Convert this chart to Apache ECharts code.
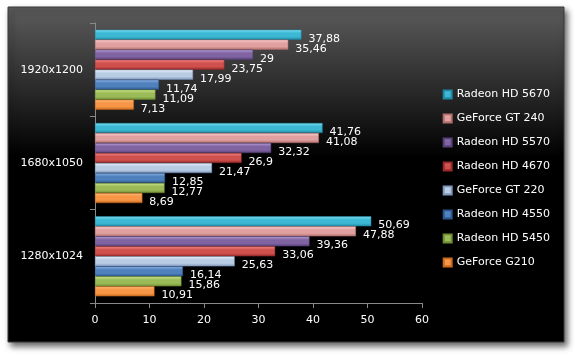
<!DOCTYPE html>
<html><head><meta charset="utf-8">
<script src="https://cdn.jsdelivr.net/npm/echarts@6/dist/echarts.min.js"></script>
<style>html,body{margin:0;padding:0;background:#fff}#c{width:575px;height:357px}</style>
</head><body><div id="c"></div>
<script>
const categories = ['1280x1024', '1680x1050', '1920x1200'];
const seriesNames = ['Radeon HD 5670', 'GeForce GT 240', 'Radeon HD 5570', 'Radeon HD 4670', 'GeForce GT 220', 'Radeon HD 4550', 'Radeon HD 5450', 'GeForce G210'];
const hd5670 = [50.69, 41.76, 37.88];
const gt240 = [47.88, 41.08, 35.46];
const hd5570 = [39.36, 32.32, 29];
const hd4670 = [33.06, 26.9, 23.75];
const gt220 = [25.63, 21.47, 17.99];
const hd4550 = [16.14, 12.85, 11.74];
const hd5450 = [15.86, 12.77, 11.09];
const g210 = [10.91, 8.69, 7.13];
const xTicks = [0, 10, 20, 30, 40, 50, 60];

const values = [hd5670, gt240, hd5570, hd4670, gt220, hd4550, hd5450, g210];
const palette = [
  ['#7ee0f4', '#3cb8d4', '#1f88a4'],
  ['#fbd0cf', '#e0a09f', '#b06e6d'],
  ['#b8a0d8', '#8064a2', '#57407a'],
  ['#f58a88', '#d0504d', '#952a28'],
  ['#eef3fb', '#b8cce4', '#7f97bb'],
  ['#8fb4e6', '#4f81bd', '#2b5790'],
  ['#cde889', '#9bbb59', '#6f8d34'],
  ['#ffba78', '#f79646', '#c86a1e']
];
function grad(c) {
  return new echarts.graphic.LinearGradient(0, 0, 0, 1, [
    {offset: 0, color: c[0]}, {offset: 0.35, color: c[1]}, {offset: 0.7, color: c[1]}, {offset: 1, color: c[2]}
  ]);
}
const font = 'DejaVu Sans';
const chart = echarts.init(document.getElementById('c'), null, {renderer: 'canvas'});
chart.setOption({
  animation: false,
  backgroundColor: '#ffffff',
  graphic: [{
    type: 'rect', z: 0,
    shape: {x: 8, y: 7, width: 556, height: 335},
    style: {
      fill: new echarts.graphic.LinearGradient(0, 0, 0, 1, [
        {offset: 0, color: '#5c5c5c'}, {offset: 0.45, color: '#000000'}, {offset: 1, color: '#000000'}
      ]),
      stroke: '#3a3a3a', lineWidth: 1,
      shadowBlur: 6, shadowOffsetX: 3, shadowOffsetY: 4, shadowColor: 'rgba(0,0,0,0.6)'
    }
  }],
  grid: {left: 95, right: 153, top: 23, bottom: 54, containLabel: false},
  legend: {
    orient: 'vertical', right: 20, top: 84,
    data: seriesNames,
    itemWidth: 8, itemHeight: 8, itemGap: 13,
    icon: 'rect',
    textStyle: {color: '#ffffff', fontFamily: font, fontSize: 11}
  },
  xAxis: {
    type: 'value', min: xTicks[0], max: xTicks[xTicks.length - 1], interval: 10,
    axisLine: {show: true, lineStyle: {color: '#8a8a8a'}},
    axisTick: {show: true, length: 5, lineStyle: {color: '#8a8a8a'}},
    splitLine: {show: false},
    axisLabel: {color: '#ffffff', fontFamily: font, fontSize: 11, margin: 12}
  },
  yAxis: {
    type: 'category', data: categories,
    axisLine: {show: true, lineStyle: {color: '#8a8a8a'}},
    axisTick: {show: true, length: 5, lineStyle: {color: '#8a8a8a'}},
    axisLabel: {color: '#ffffff', fontFamily: font, fontSize: 11, margin: 12}
  },
  series: seriesNames.map((n, i) => ({
    name: n, type: 'bar', data: values[i],
    barWidth: 10, barGap: '0%',
    itemStyle: {color: grad(palette[i]), borderColor: palette[i][2], borderWidth: 0.5},
    label: {
      show: true, position: 'right', offset: [2, 4], color: '#ffffff',
      fontFamily: font, fontSize: 11,
      formatter: p => String(p.value).replace('.', ',')
    }
  }))
});
</script></body></html>
